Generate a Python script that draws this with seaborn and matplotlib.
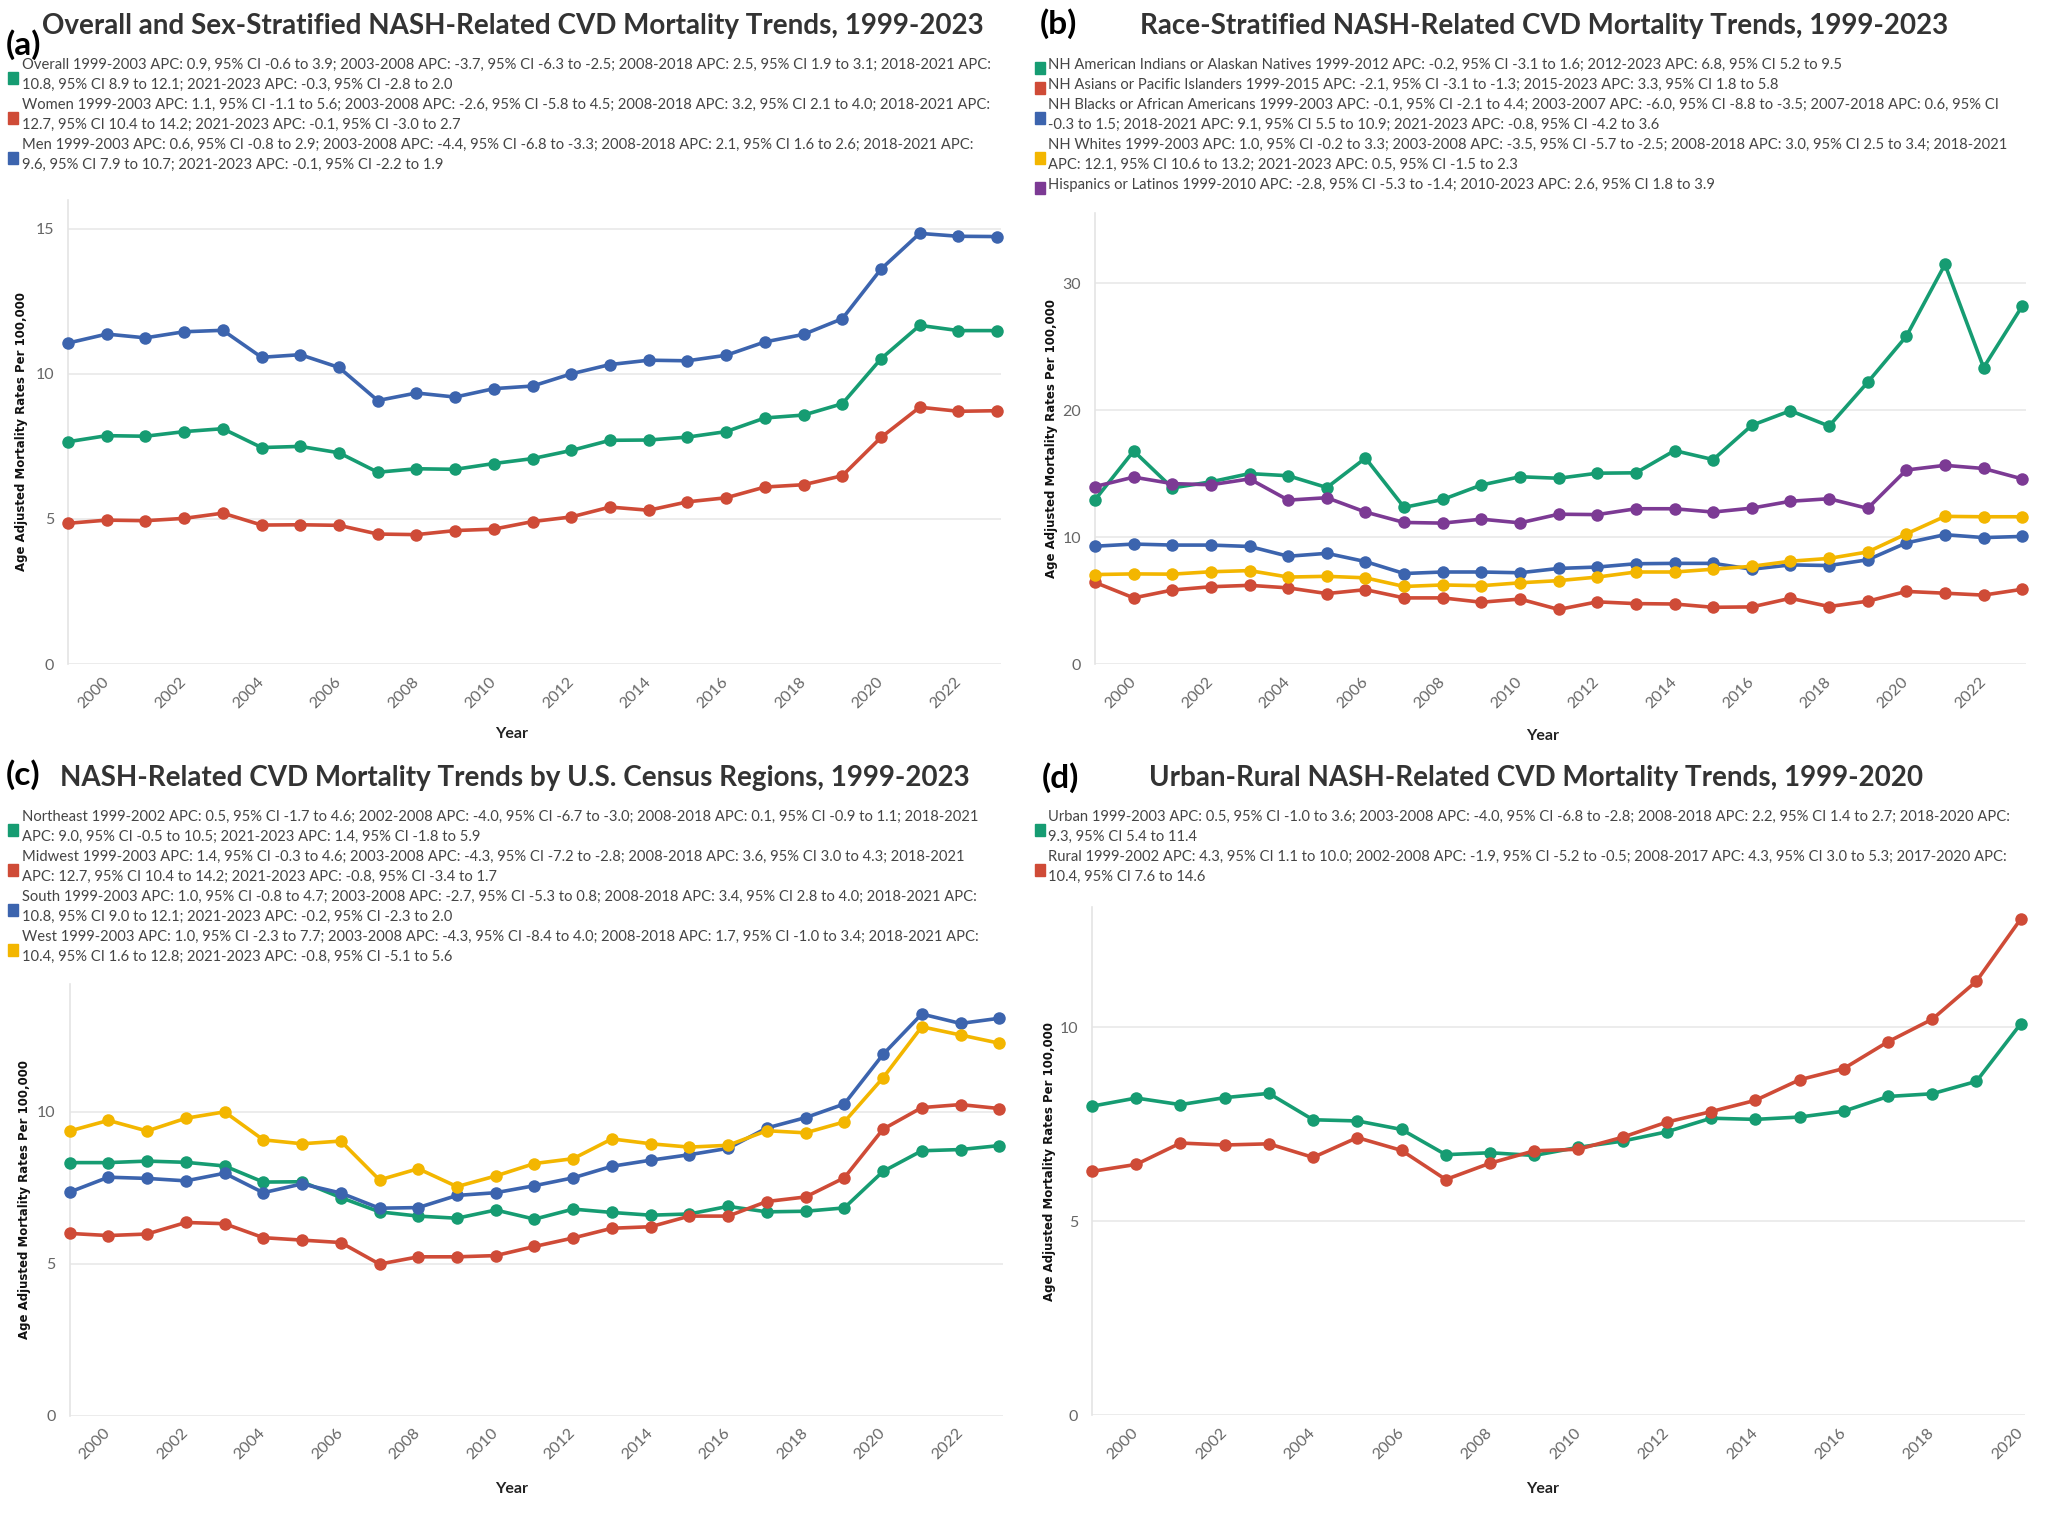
import pandas as pd
import seaborn as sns
import matplotlib.pyplot as plt
from matplotlib.patches import Rectangle

# Data
years = list(range(1999, 2024))
years_d = list(range(1999, 2021))

# (a) overall and sex
overall = [7.66, 7.87, 7.85, 8.01, 8.11, 7.46, 7.50, 7.28, 6.61, 6.73, 6.71, 6.91, 7.08,
           7.36, 7.71, 7.72, 7.82, 8.01, 8.48, 8.58, 8.97, 10.52, 11.67, 11.49, 11.49]
women = [4.85, 4.96, 4.94, 5.02, 5.20, 4.79, 4.80, 4.78, 4.48, 4.46, 4.60, 4.65, 4.91,
         5.07, 5.41, 5.30, 5.59, 5.73, 6.10, 6.18, 6.49, 7.81, 8.85, 8.71, 8.73]
men = [11.06, 11.37, 11.24, 11.45, 11.50, 10.57, 10.66, 10.22, 9.08, 9.34, 9.20, 9.49, 9.58,
       10.00, 10.32, 10.47, 10.45, 10.64, 11.10, 11.36, 11.90, 13.61, 14.84, 14.74, 14.73]

# (b) race
aian = [12.94, 16.78, 13.87, 14.35, 15.00, 14.83, 13.90, 16.22, 12.34, 12.96, 14.10, 14.75, 14.63,
        15.03, 15.06, 16.81, 16.10, 18.80, 19.95, 18.74, 22.19, 25.81, 31.47, 23.35, 28.19]
asian = [6.43, 5.21, 5.83, 6.09, 6.20, 6.00, 5.55, 5.86, 5.21, 5.21, 4.87, 5.12, 4.30,
         4.90, 4.76, 4.73, 4.47, 4.50, 5.18, 4.53, 4.95, 5.72, 5.58, 5.43, 5.89]
black = [9.28, 9.45, 9.37, 9.37, 9.26, 8.49, 8.72, 8.07, 7.13, 7.25, 7.25, 7.19, 7.53,
         7.64, 7.90, 7.93, 7.93, 7.47, 7.81, 7.76, 8.21, 9.54, 10.19, 9.96, 10.05]
white = [7.05, 7.10, 7.08, 7.27, 7.36, 6.85, 6.91, 6.79, 6.11, 6.23, 6.17, 6.40, 6.57,
         6.85, 7.25, 7.25, 7.47, 7.70, 8.10, 8.32, 8.83, 10.25, 11.63, 11.60, 11.60]
hispanic = [13.98, 14.72, 14.21, 14.12, 14.58, 12.91, 13.10, 11.97, 11.15, 11.10, 11.41, 11.12, 11.80,
            11.77, 12.23, 12.23, 11.97, 12.28, 12.82, 13.02, 12.26, 15.28, 15.65, 15.40, 14.58]

# (c) census regions
northeast = [8.33, 8.33, 8.38, 8.34, 8.22, 7.69, 7.70, 7.18, 6.71, 6.57, 6.50, 6.77, 6.47,
             6.80, 6.69, 6.60, 6.64, 6.89, 6.71, 6.73, 6.84, 8.04, 8.72, 8.76, 8.89]
midwest = [6.00, 5.93, 5.98, 6.36, 6.32, 5.86, 5.78, 5.70, 4.99, 5.23, 5.23, 5.27, 5.57,
           5.85, 6.17, 6.22, 6.57, 6.57, 7.05, 7.20, 7.83, 9.43, 10.14, 10.24, 10.11]
south = [7.36, 7.85, 7.81, 7.73, 7.98, 7.34, 7.63, 7.33, 6.83, 6.85, 7.25, 7.34, 7.57,
         7.83, 8.21, 8.41, 8.59, 8.80, 9.47, 9.81, 10.26, 11.89, 13.22, 12.91, 13.08]
west = [9.37, 9.72, 9.37, 9.79, 10.00, 9.08, 8.95, 9.04, 7.76, 8.13, 7.54, 7.89, 8.30,
        8.46, 9.11, 8.95, 8.84, 8.90, 9.38, 9.31, 9.67, 11.12, 12.80, 12.53, 12.26]

# (d) urban / rural
urban = [7.97, 8.18, 8.01, 8.19, 8.30, 7.62, 7.59, 7.37, 6.72, 6.77, 6.70, 6.91, 7.07,
         7.31, 7.66, 7.63, 7.69, 7.84, 8.22, 8.29, 8.61, 10.09]
rural = [6.29, 6.47, 7.02, 6.97, 7.00, 6.65, 7.16, 6.83, 6.08, 6.50, 6.82, 6.86, 7.17,
         7.56, 7.83, 8.12, 8.65, 8.94, 9.63, 10.21, 11.19, 12.79]

GREEN, RED, BLUE, YELLOW, PURPLE = '#169c72', '#cf4b37', '#3c64ae', '#f3b600', '#7c3a94'

legend_a = [
    ("Overall 1999-2003 APC: 0.9, 95% CI -0.6 to 3.9; 2003-2008 APC: -3.7, 95% CI -6.3 to -2.5; 2008-2018 APC: 2.5, 95% CI 1.9 to 3.1; 2018-2021 APC:",
     "10.8, 95% CI 8.9 to 12.1; 2021-2023 APC: -0.3, 95% CI -2.8 to 2.0"),
    ("Women 1999-2003 APC: 1.1, 95% CI -1.1 to 5.6; 2003-2008 APC: -2.6, 95% CI -5.8 to 4.5; 2008-2018 APC: 3.2, 95% CI 2.1 to 4.0; 2018-2021 APC:",
     "12.7, 95% CI 10.4 to 14.2; 2021-2023 APC: -0.1, 95% CI -3.0 to 2.7"),
    ("Men 1999-2003 APC: 0.6, 95% CI -0.8 to 2.9; 2003-2008 APC: -4.4, 95% CI -6.8 to -3.3; 2008-2018 APC: 2.1, 95% CI 1.6 to 2.6; 2018-2021 APC:",
     "9.6, 95% CI 7.9 to 10.7; 2021-2023 APC: -0.1, 95% CI -2.2 to 1.9"),
]
legend_b = [
    ("NH American Indians or Alaskan Natives 1999-2012 APC: -0.2, 95% CI -3.1 to 1.6; 2012-2023 APC: 6.8, 95% CI 5.2 to 9.5",),
    ("NH Asians or Pacific Islanders 1999-2015 APC: -2.1, 95% CI -3.1 to -1.3; 2015-2023 APC: 3.3, 95% CI 1.8 to 5.8",),
    ("NH Blacks or African Americans 1999-2003 APC: -0.1, 95% CI -2.1 to 4.4; 2003-2007 APC: -6.0, 95% CI -8.8 to -3.5; 2007-2018 APC: 0.6, 95% CI",
     "-0.3 to 1.5; 2018-2021 APC: 9.1, 95% CI 5.5 to 10.9; 2021-2023 APC: -0.8, 95% CI -4.2 to 3.6"),
    ("NH Whites 1999-2003 APC: 1.0, 95% CI -0.2 to 3.3; 2003-2008 APC: -3.5, 95% CI -5.7 to -2.5; 2008-2018 APC: 3.0, 95% CI 2.5 to 3.4; 2018-2021",
     "APC: 12.1, 95% CI 10.6 to 13.2; 2021-2023 APC: 0.5, 95% CI -1.5 to 2.3"),
    ("Hispanics or Latinos 1999-2010 APC: -2.8, 95% CI -5.3 to -1.4; 2010-2023 APC: 2.6, 95% CI 1.8 to 3.9",),
]
legend_c = [
    ("Northeast 1999-2002 APC: 0.5, 95% CI -1.7 to 4.6; 2002-2008 APC: -4.0, 95% CI -6.7 to -3.0; 2008-2018 APC: 0.1, 95% CI -0.9 to 1.1; 2018-2021",
     "APC: 9.0, 95% CI -0.5 to 10.5; 2021-2023 APC: 1.4, 95% CI -1.8 to 5.9"),
    ("Midwest 1999-2003 APC: 1.4, 95% CI -0.3 to 4.6; 2003-2008 APC: -4.3, 95% CI -7.2 to -2.8; 2008-2018 APC: 3.6, 95% CI 3.0 to 4.3; 2018-2021",
     "APC: 12.7, 95% CI 10.4 to 14.2; 2021-2023 APC: -0.8, 95% CI -3.4 to 1.7"),
    ("South 1999-2003 APC: 1.0, 95% CI -0.8 to 4.7; 2003-2008 APC: -2.7, 95% CI -5.3 to 0.8; 2008-2018 APC: 3.4, 95% CI 2.8 to 4.0; 2018-2021 APC:",
     "10.8, 95% CI 9.0 to 12.1; 2021-2023 APC: -0.2, 95% CI -2.3 to 2.0"),
    ("West 1999-2003 APC: 1.0, 95% CI -2.3 to 7.7; 2003-2008 APC: -4.3, 95% CI -8.4 to 4.0; 2008-2018 APC: 1.7, 95% CI -1.0 to 3.4; 2018-2021 APC:",
     "10.4, 95% CI 1.6 to 12.8; 2021-2023 APC: -0.8, 95% CI -5.1 to 5.6"),
]
legend_d = [
    ("Urban 1999-2003 APC: 0.5, 95% CI -1.0 to 3.6; 2003-2008 APC: -4.0, 95% CI -6.8 to -2.8; 2008-2018 APC: 2.2, 95% CI 1.4 to 2.7; 2018-2020 APC:",
     "9.3, 95% CI 5.4 to 11.4"),
    ("Rural 1999-2002 APC: 4.3, 95% CI 1.1 to 10.0; 2002-2008 APC: -1.9, 95% CI -5.2 to -0.5; 2008-2017 APC: 4.3, 95% CI 3.0 to 5.3; 2017-2020 APC:",
     "10.4, 95% CI 7.6 to 14.6"),
]

sns.set_theme(style='white')
plt.rcParams['font.family'] = ['Lato', 'DejaVu Sans']

W, H = 2048, 1521
fig = plt.figure(figsize=(W / 100, H / 100), dpi=100)


def fx(px):
    return px / W


def fy(py):
    return 1 - py / H


def draw_panel(rect, xs, series, names, colors, ylim, yticks, xlim, xticks):
    ax = fig.add_axes(rect)
    df = pd.concat([pd.DataFrame({'Year': xs, 'Rate': v, 'Group': n})
                    for v, n in zip(series, names)], ignore_index=True)
    sns.lineplot(data=df, x='Year', y='Rate', hue='Group', palette=dict(zip(names, colors)),
                 marker='o', markersize=9, markeredgewidth=0, linewidth=2.6,
                 legend=False, ax=ax, clip_on=False, zorder=3)
    ax.set_xlim(*xlim)
    ax.set_ylim(*ylim)
    ax.set_yticks(yticks)
    ax.set_xticks(xticks)
    ax.set_xlabel('')
    ax.set_ylabel('')
    ax.yaxis.grid(True, color='#ebebeb', linewidth=1.3)
    ax.xaxis.grid(False)
    for s in ['top', 'right', 'bottom']:
        ax.spines[s].set_visible(False)
    ax.spines['left'].set_color('#e4e4e4')
    ax.spines['left'].set_linewidth(1.2)
    ax.tick_params(axis='y', length=0, pad=10, labelsize=11.5, labelcolor='#666666')
    ax.tick_params(axis='x', length=5, width=1, color='#e4e4e4', pad=6,
                   labelsize=11.5, labelcolor='#666666')
    for lab in ax.get_xticklabels():
        lab.set_rotation(45)
        lab.set_ha('right')
        lab.set_va('center')
        lab.set_rotation_mode('anchor')
    return ax


def draw_legend(entries, colors, x_sq, x_txt, y0):
    y = y0
    for lines, c in zip(entries, colors):
        yc = y + (len(lines) - 1) * 10 + 3
        fig.patches.append(Rectangle((fx(x_sq), fy(yc + 6)), 10 / W, 12 / H,
                                     transform=fig.transFigure, color=c))
        for ln in lines:
            fig.text(fx(x_txt), fy(y), ln, fontsize=10.6, color='#444444', va='center', ha='left')
            y += 20


def headings(letter, lx, ly, title, tx, ty):
    fig.text(fx(lx), fy(ly), letter, fontsize=24, fontweight='bold', color='black',
             ha='left', va='center')
    fig.text(fx(tx), fy(ty), title, fontsize=20, fontweight='bold', color='#333333',
             ha='center', va='center')


YLAB = 'Age Adjusted Mortality Rates Per 100,000'


def axis_labels(ax, ylab_x, year_x, year_y):
    pos = ax.get_position()
    fig.text(fx(ylab_x), pos.y0 + pos.height / 2, YLAB, rotation=90, fontsize=8.5,
             fontweight='bold', family='DejaVu Sans', color='#111111', ha='center', va='center')
    fig.text(fx(year_x), fy(year_y), 'Year', fontsize=11.5, fontweight='bold',
             color='#222222', ha='center', va='center')


ticks_full = list(range(2000, 2024, 2))

# (a)
ax_a = draw_panel([0.0332, 0.5634, 0.4556, 0.3053], years, [overall, women, men],
                  ['Overall', 'Women', 'Men'], [GREEN, RED, BLUE],
                  (0, 16), [0, 5, 10, 15], (1999, 2023.1), ticks_full)
headings('(a)', 6, 45, 'Overall and Sex-Stratified NASH-Related CVD Mortality Trends, 1999-2023', 513, 26)
draw_legend(legend_a, [GREEN, RED, BLUE], 8, 22, 65)
axis_labels(ax_a, 22, 512, 734)

# (b)
ax_b = draw_panel([0.5347, 0.5634, 0.4546, 0.2964], years,
                  [aian, asian, black, white, hispanic],
                  ['AIAN', 'API', 'Black', 'White', 'Hispanic'],
                  [GREEN, RED, BLUE, YELLOW, PURPLE],
                  (0, 35.5), [0, 10, 20, 30], (1999, 2023.1), ticks_full)
headings('(b)', 1040, 24, 'Race-Stratified NASH-Related CVD Mortality Trends, 1999-2023', 1544, 26)
draw_legend(legend_b, [GREEN, RED, BLUE, YELLOW, PURPLE], 1035, 1048, 65)
axis_labels(ax_b, 1052, 1543, 736)

# (c)
ax_c = draw_panel([0.0340, 0.0692, 0.4558, 0.2837], years,
                  [northeast, midwest, south, west],
                  ['Northeast', 'Midwest', 'South', 'West'],
                  [GREEN, RED, BLUE, YELLOW],
                  (0, 14.2), [0, 5, 10], (1999, 2023.1), ticks_full)
headings('(c)', 6, 775, 'NASH-Related CVD Mortality Trends by U.S. Census Regions, 1999-2023', 515, 778)
draw_legend(legend_c, [GREEN, RED, BLUE, YELLOW], 8, 22, 817)
axis_labels(ax_c, 25, 512, 1489)

# (d)
ax_d = draw_panel([0.5332, 0.0694, 0.4556, 0.3342], years_d, [urban, rural],
                  ['Urban', 'Rural'], [GREEN, RED],
                  (0, 13.1), [0, 5, 10], (1999, 2020.1), list(range(2000, 2021, 2)))
headings('(d)', 1042, 778, 'Urban-Rural NASH-Related CVD Mortality Trends, 1999-2020', 1536, 778)
draw_legend(legend_d, [GREEN, RED], 1035, 1048, 817)
axis_labels(ax_d, 1050, 1543, 1489)

fig.savefig('out.png', dpi=100, facecolor='white')
